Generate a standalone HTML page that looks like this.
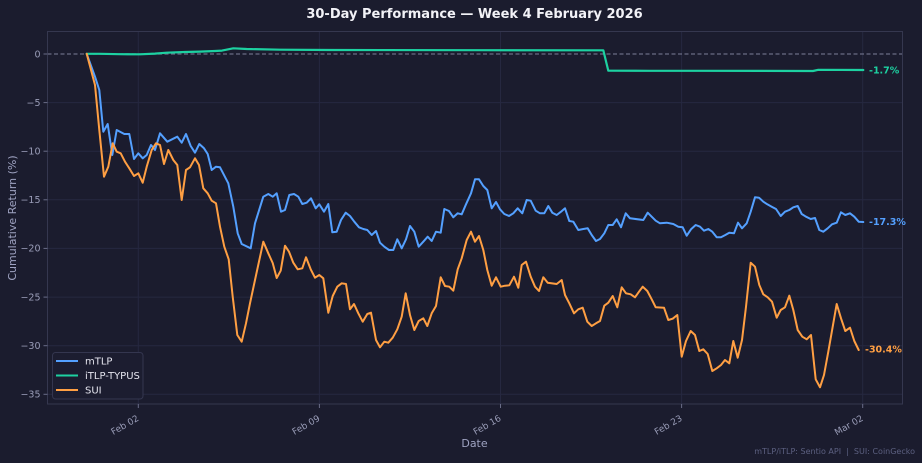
<!DOCTYPE html>
<html>
<head>
<meta charset="utf-8">
<style>
  html,body{margin:0;padding:0;background:#1b1c2e;}
  svg{display:block;}
  text{font-family:"DejaVu Sans","Liberation Sans",sans-serif;}
</style>
</head>
<body>
<svg width="922" height="463" viewBox="0 0 922 463" xmlns="http://www.w3.org/2000/svg">
  <rect x="0" y="0" width="922" height="463" fill="#1b1c2e"/>
  <rect x="47.5" y="31.5" width="855" height="372.5" fill="#1b1c2e"/>

  <g stroke="#262840" stroke-width="1">
    <line x1="47.5" x2="902.5" y1="102.6" y2="102.6"/>
    <line x1="47.5" x2="902.5" y1="151.2" y2="151.2"/>
    <line x1="47.5" x2="902.5" y1="199.8" y2="199.8"/>
    <line x1="47.5" x2="902.5" y1="248.4" y2="248.4"/>
    <line x1="47.5" x2="902.5" y1="297.1" y2="297.1"/>
    <line x1="47.5" x2="902.5" y1="345.7" y2="345.7"/>
    <line x1="47.5" x2="902.5" y1="394.3" y2="394.3"/>
    <line y1="31.5" y2="404" x1="138.3" x2="138.3"/>
    <line y1="31.5" y2="404" x1="319.4" x2="319.4"/>
    <line y1="31.5" y2="404" x1="500.5" x2="500.5"/>
    <line y1="31.5" y2="404" x1="681.6" x2="681.6"/>
    <line y1="31.5" y2="404" x1="862.7" x2="862.7"/>
  </g>

  <line x1="47.5" x2="902.5" y1="54" y2="54" stroke="#6a6c84" stroke-width="1.2" stroke-dasharray="4,2.5"/>

  <rect x="47.5" y="31.5" width="855" height="372.5" fill="none" stroke="#35374f" stroke-width="1"/>

  <g stroke="#6a6d88" stroke-width="1">
    <line x1="43.5" x2="47.5" y1="54" y2="54"/>
    <line x1="43.5" x2="47.5" y1="102.6" y2="102.6"/>
    <line x1="43.5" x2="47.5" y1="151.2" y2="151.2"/>
    <line x1="43.5" x2="47.5" y1="199.8" y2="199.8"/>
    <line x1="43.5" x2="47.5" y1="248.4" y2="248.4"/>
    <line x1="43.5" x2="47.5" y1="297.1" y2="297.1"/>
    <line x1="43.5" x2="47.5" y1="345.7" y2="345.7"/>
    <line x1="43.5" x2="47.5" y1="394.3" y2="394.3"/>
    <line y1="404" y2="408" x1="138.3" x2="138.3"/>
    <line y1="404" y2="408" x1="319.4" x2="319.4"/>
    <line y1="404" y2="408" x1="500.5" x2="500.5"/>
    <line y1="404" y2="408" x1="681.6" x2="681.6"/>
    <line y1="404" y2="408" x1="862.7" x2="862.7"/>
  </g>
  <g fill="#9a9db8" font-size="9.5" text-anchor="end">
    <text x="40.5" y="57.3">0</text>
    <text x="40.5" y="105.9">−5</text>
    <text x="40.5" y="154.5">−10</text>
    <text x="40.5" y="203.1">−15</text>
    <text x="40.5" y="251.7">−20</text>
    <text x="40.5" y="300.4">−25</text>
    <text x="40.5" y="349">−30</text>
    <text x="40.5" y="397.6">−35</text>
  </g>

  <g fill="#9a9db8" font-size="9" text-anchor="end">
    <text x="139.5" y="420" transform="rotate(-30 139.5 420)">Feb 02</text>
    <text x="320.6" y="420" transform="rotate(-30 320.6 420)">Feb 09</text>
    <text x="501.7" y="420" transform="rotate(-30 501.7 420)">Feb 16</text>
    <text x="682.8" y="420" transform="rotate(-30 682.8 420)">Feb 23</text>
    <text x="863.9" y="420" transform="rotate(-30 863.9 420)">Mar 02</text>
  </g>

  <text x="474.5" y="447" fill="#9fa3c2" font-size="11" text-anchor="middle">Date</text>
  <text x="0" y="0" fill="#9fa3c2" font-size="11" text-anchor="middle" transform="translate(16 218) rotate(-90)">Cumulative Return (%)</text>

  <text x="474.5" y="18" fill="#f2f2f7" font-size="13" font-weight="bold" text-anchor="middle">30-Day Performance — Week 4 February 2026</text>

  <g fill="none" stroke-width="2" stroke-linejoin="round" stroke-linecap="round">
    <polyline stroke="#54a0ff" points="86.7,53.8 95,76.7 99.3,90 103.3,131.7 107.7,124 112.3,155 116.7,130 124.3,134 129.3,134 134,159 138.3,153.3 142.7,158.3 146.7,155 151,145 155,150 160,133.3 167.3,141.7 177.3,136.7 181.7,142.7 186,134 190.7,146 195,152.7 199.3,144 204,148.3 207.7,154 211.7,170 216,166.7 220,167.3 228.3,183.3 233.3,206.7 237.7,233.3 241.7,244 250.7,248.3 255,223.3 263.3,196.7 268.3,194 272.7,196.7 276.7,193.3 281,211.7 285,210 289.3,195 294,194 298.3,196.7 302.3,204 306.7,202.7 311,198.3 315.7,208.3 319.3,204.3 324,211.7 328.3,204 332.3,232.3 336.7,231.7 341,220 345.7,212.7 350,216 354.3,221.7 359,227.3 363.3,229 367.3,230 371.7,235 376,231 380,242.7 384.3,246.7 389,250 393.3,250 397.3,239.3 401.7,248.3 406,239.3 410,226 414.3,231.7 418.7,246.7 423.3,241.7 427.7,236.7 431.7,241 436,231.7 440.7,232.7 444.3,209 449,211 453.3,217.3 457.7,213.3 461.7,214.3 466,204.3 471,193.3 475,179.3 479,179.3 483.3,186 487.3,190 491.7,208.3 496,202 500,209.3 504.3,214 509,216 513.3,213.3 517.7,208.3 522.3,213.3 526.7,200 530.7,200.7 535.7,210.7 540,213.3 544.3,213.3 548.3,206 552.3,212.7 556.7,215 561,211.7 565,208.3 569.3,221 573.3,221.7 578.3,230 583.3,229 587.7,228.3 591.7,235 596,241 600,239 604.3,233.3 608.3,225 612.7,225 616.7,219.3 621,227.3 625.7,213.3 630,218.3 643.3,220 647.7,212.7 651.7,216.7 655.7,220.7 660,223.3 666.7,222.7 673.3,224 678.3,226.7 682.7,227.3 686.7,235.7 691,229.3 695.7,225 700,226.7 704,230.7 708.3,229 712.3,231.7 716.7,237.3 721,237.3 725.3,235 729.3,232.7 734,233.3 738,222.7 742,228.3 746.7,223.3 750.7,211.7 755,197.3 759,197.7 763.3,201.7 767.3,204.3 771.7,206.7 776,209 780.7,216 785,211.7 789.3,210 793.3,207.3 797.7,206 801.7,214 806,216.7 810.7,219 815,218 819.3,230 823.3,231.7 827.7,228.3 832,224.3 836.7,222.7 841,212.3 845.3,215 850,213.3 854.3,216.7 858.7,221.7 863.3,222"/>
    <polyline stroke="#1dd1a1" stroke-width="2.2" points="86.7,53.8 100,53.8 120,54.2 140,54.3 155,53.6 166.7,52.7 185,52 200,51.6 215,51 222,50.6 233.3,48.3 246.7,49 280,49.7 330,50 480,50.2 603.3,50.3 608.3,70.7 650,70.8 700,70.8 760,70.9 813,71 818.3,69.8 863.3,70"/>
    <polyline stroke="#ff9f43" points="86.7,53.8 95,85 99.3,130 104,176.7 108.3,166.7 112.7,143.3 116.7,151.7 120.7,153.3 125,161.7 129.3,168.3 134,176 138.3,173.3 142.7,182.7 146.7,166.7 151.7,150 156,143.3 160,145 164,164 168.3,150 173.3,160 177.3,165 181.7,200 186,170 190,167.3 195,158.3 199,165 203.3,188.3 207.7,193.3 211.7,200.7 216,203.3 220,226.7 224.3,246.7 228.7,259.3 232.7,296.7 237.3,335 241.7,341.7 246,323.3 250,303.3 255,280 263.3,241.7 268.3,253.3 272.7,263 276.7,278 280.7,270.7 285,245.7 289,251.7 293.3,262.7 297.7,269.3 302.3,268.3 306,257.3 310.7,269.3 315,277.7 319.3,275 323.3,278.3 328.3,312.7 332.7,296 337.3,286.7 341.7,283.3 346,284 350,309.3 354,304 358.3,313.3 362.7,321.7 367.3,314 371,312.7 376,340 380,347.3 384.3,341.7 388.3,342.7 392.7,337.7 397.3,329.3 401.7,316.7 405.7,293.3 410,315 414.3,330 418.7,321 423.3,318.3 427.3,326 431.7,313.3 436,306 440.7,277.3 445,286 449.3,286.7 453.3,290.7 457.7,269.3 461.7,258.3 466.7,240 471,231.7 475,241.7 479,236 483.3,250 487.3,270 491.7,285.7 496,277.3 500.7,286.7 505,285.7 509.3,285.3 514,276.7 518.3,287.7 521.7,265 526,261.7 530.7,276.7 535,286.7 539,291 543.3,277.3 547.7,282.7 556.7,284 561.7,280 565,295 569.3,303.3 574,313.3 578.3,309.3 582.7,307.7 587.3,321.7 591.7,326 596,323.3 600,321 604.3,305.7 608.3,302.7 612.7,296 617.3,307.3 621.7,287.3 626,293.3 630.7,294.3 635,297.3 639,291.7 642.7,286.7 647.3,291 651.7,299.3 655.7,307.3 664,307.7 668.3,320 672.7,318.7 677.3,315 681.7,356.7 686,341 690.7,331 695,335 699.3,351 703.3,349.3 707.7,354 712.3,371 716.7,368.3 721,365 725,360 729.3,363.3 733.3,341 737.7,357.7 742,340 746,306.7 750.7,262.7 755,266.7 759.3,285 763.3,294.3 767.7,297.3 772,301.7 776.7,317.7 780.7,310 785,307.3 789.3,295.7 793.3,310 797.7,330 802.3,336.7 806.7,339.3 811,335 815.7,379.3 820,387.3 824,375 828.3,351.7 832.7,326.7 836.7,304 841,318.3 845.3,331 850,327.7 854.3,341 858.7,350"/>
  </g>

  <g font-size="9.5" font-weight="bold">
    <text x="869" y="73.7" fill="#1dd1a1">-1.7%</text>
    <text x="869" y="225.1" fill="#54a0ff">-17.3%</text>
    <text x="865" y="352.7" fill="#ff9f43">-30.4%</text>
  </g>

  <rect x="52.5" y="352.5" width="90.5" height="46.5" rx="3" ry="3" fill="#1c1d30" stroke="#34364f" stroke-width="1"/>
  <g stroke-width="2">
    <line x1="56" x2="78" y1="361" y2="361" stroke="#54a0ff"/>
    <line x1="56" x2="78" y1="375.5" y2="375.5" stroke="#1dd1a1"/>
    <line x1="56" x2="78" y1="390" y2="390" stroke="#ff9f43"/>
  </g>
  <g fill="#e4e4ee" font-size="10">
    <text x="85" y="364.6">mTLP</text>
    <text x="85" y="379.1">iTLP-TYPUS</text>
    <text x="85" y="393.6">SUI</text>
  </g>

  <text x="915" y="454" fill="#5c6080" font-size="8" text-anchor="end" xml:space="preserve">mTLP/iTLP: Sentio API  |  SUI: CoinGecko</text>
</svg>
</body>
</html>
